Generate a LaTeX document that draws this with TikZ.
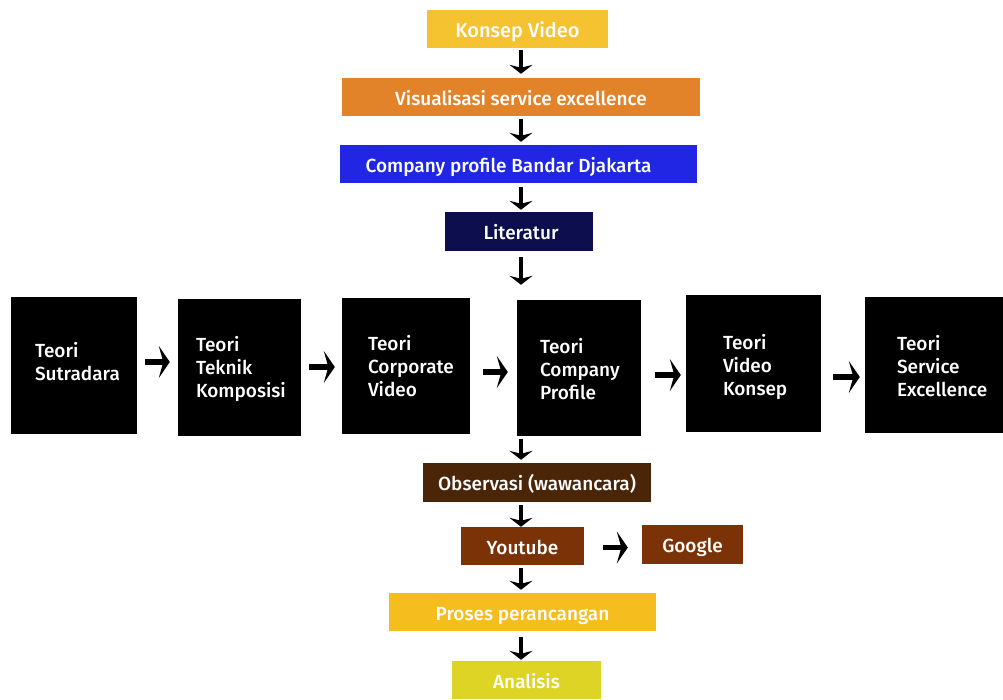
\documentclass[tikz,border=0pt]{standalone}
\usepackage{fontspec}
\setmainfont{Fira Sans}[BoldFont={Fira Sans Medium}]
\usetikzlibrary{arrows.meta,calc}
\definecolor{cKonsep}{HTML}{F5C230}
\definecolor{cVis}{HTML}{E2832A}
\definecolor{cComp}{HTML}{2026E4}
\definecolor{cLit}{HTML}{0D0E4E}
\definecolor{cObs}{HTML}{4A2508}
\definecolor{cYou}{HTML}{7B3206}
\definecolor{cProses}{HTML}{F6BD1F}
\definecolor{cAnal}{HTML}{DDD425}
\tikzset{
  x=1pt,y=1pt,
  flow/.style={draw=none, text=white, font=\bfseries\fontsize{19}{21}\selectfont, inner sep=0pt, anchor=center, text height=16pt, text depth=0pt},
  theory/.style={draw=none, fill=black, anchor=center, inner sep=0pt},
  ttext/.style={text=white, font=\bfseries\fontsize{19}{23}\selectfont, align=left, anchor=west, inner sep=0pt},
  darr/.style={line width=3.5pt, -{Stealth[length=9pt,width=23pt,inset=3pt]}},
  harr/.style={line width=5.5pt, -{Stealth[length=11pt,width=32pt,inset=4.5pt]}},
}
\begin{document}
\begin{tikzpicture}
\useasboundingbox (0,0) rectangle (1003,-699);
\coordinate (axis) at (521,0);
% top flow
\node[flow, fill=cKonsep, minimum width=181, minimum height=38, font=\bfseries\fontsize{20}{22}\selectfont] (kv) at (517.5,-29) {Konsep Video};
\node[flow, fill=cVis, minimum width=358, minimum height=38] (vis) at (521,-97) {Visualisasi service excellence};
\node[flow, fill=cComp, minimum width=357, minimum height=38] (comp) at (518.5,-164) {\hspace*{-20pt}Company profile Bandar Djakarta};
\node[flow, fill=cLit, minimum width=148, minimum height=39] (lit) at (519,-231.5) {\hspace*{4pt}Literatur};
% theory boxes
\node[theory, minimum width=126, minimum height=137] (t1) at (74,-365.5) {};
\node[theory, minimum width=123, minimum height=137] (t2) at (239.5,-367.5) {};
\node[theory, minimum width=128, minimum height=136] (t3) at (406,-366) {};
\node[theory, minimum width=124, minimum height=136] (t4) at (579,-368) {};
\node[theory, minimum width=135, minimum height=137] (t5) at (753.5,-363.5) {};
\node[theory, minimum width=138, minimum height=136] (t6) at (934,-365) {};
\node[ttext] (t1x) at ([xshift=24pt,yshift=3.5pt]t1.west) {Teori\\Sutradara};
\node[ttext] (t2x) at ([xshift=18pt,yshift=-1pt]t2.west) {Teori\\Teknik\\Komposisi};
\node[ttext] (t3x) at ([xshift=26pt,yshift=0pt]t3.west) {Teori\\Corporate\\Video};
\node[ttext] (t4x) at ([xshift=23pt,yshift=-1.5pt]t4.west) {Teori\\Company\\Profile};
\node[ttext] (t5x) at ([xshift=37pt,yshift=-3.5pt]t5.west) {Teori\\Video\\Konsep};
\node[ttext] (t6x) at ([xshift=32pt,yshift=-1pt]t6.west) {Teori\\Service\\Excellence};
% bottom flow
\node[flow, fill=cObs, minimum width=228, minimum height=39] (obs) at (537,-482.5) {Observasi (wawancara)};
\node[flow, fill=cYou, minimum width=123, minimum height=38] (you) at (522.5,-546) {Youtube};
\node[flow, fill=cYou, minimum width=101, minimum height=39] (goo) at (692.5,-544.5) {Google};
\node[flow, fill=cProses, minimum width=267, minimum height=38] (pro) at (522.5,-612) {Proses perancangan};
\node[flow, fill=cAnal, minimum width=149, minimum height=38] (ana) at (526.5,-680) {Analisis};
% vertical arrows
\draw[darr, shorten <=2pt, shorten >=4pt] (kv.south -| axis) -- (vis.north -| axis);
\draw[darr, shorten <=3pt, shorten >=3pt] (vis.south -| axis) -- (comp.north -| axis);
\draw[darr, shorten <=4pt, shorten >=2pt] (comp.south -| axis) -- (lit.north -| axis);
\draw[darr, shorten <=6pt, shorten >=15pt] (lit.south -| axis) -- (t4.north -| axis);
\draw[darr, shorten <=3pt, shorten >=3pt] (t4.south -| axis) -- (obs.north -| axis);
\draw[darr, shorten <=3pt, shorten >=0pt] (obs.south -| axis) -- (you.north -| axis);
\draw[darr, shorten <=3pt, shorten >=3pt] (you.south -| axis) -- (pro.north -| axis);
\draw[darr, shorten <=6pt, shorten >=1pt] (pro.south -| axis) -- (ana.north -| axis);
% horizontal arrows
\draw[harr, shorten <=8pt, shorten >=8pt] ([yshift=3.5pt]t1.east) -- ([yshift=3.5pt]t1.east -| t2.west);
\draw[harr, shorten <=8pt, shorten >=7pt] ([yshift=0.5pt]t2.east) -- ([yshift=0.5pt]t2.east -| t3.west);
\draw[harr, shorten <=13pt, shorten >=9pt] ([yshift=-6pt]t3.east) -- ([yshift=-6pt]t3.east -| t4.west);
\draw[harr, shorten <=14pt, shorten >=5pt] ([yshift=-7pt]t4.east) -- ([yshift=-7pt]t4.east -| t5.west);
\draw[harr, shorten <=12pt, shorten >=5pt] ([yshift=-13.5pt]t5.east) -- ([yshift=-13.5pt]t5.east -| t6.west);
\draw[harr, shorten <=19pt, shorten >=14pt] ([yshift=-1.5pt]you.east) -- ([yshift=-1.5pt]you.east -| goo.west);
\end{tikzpicture}
\end{document}
